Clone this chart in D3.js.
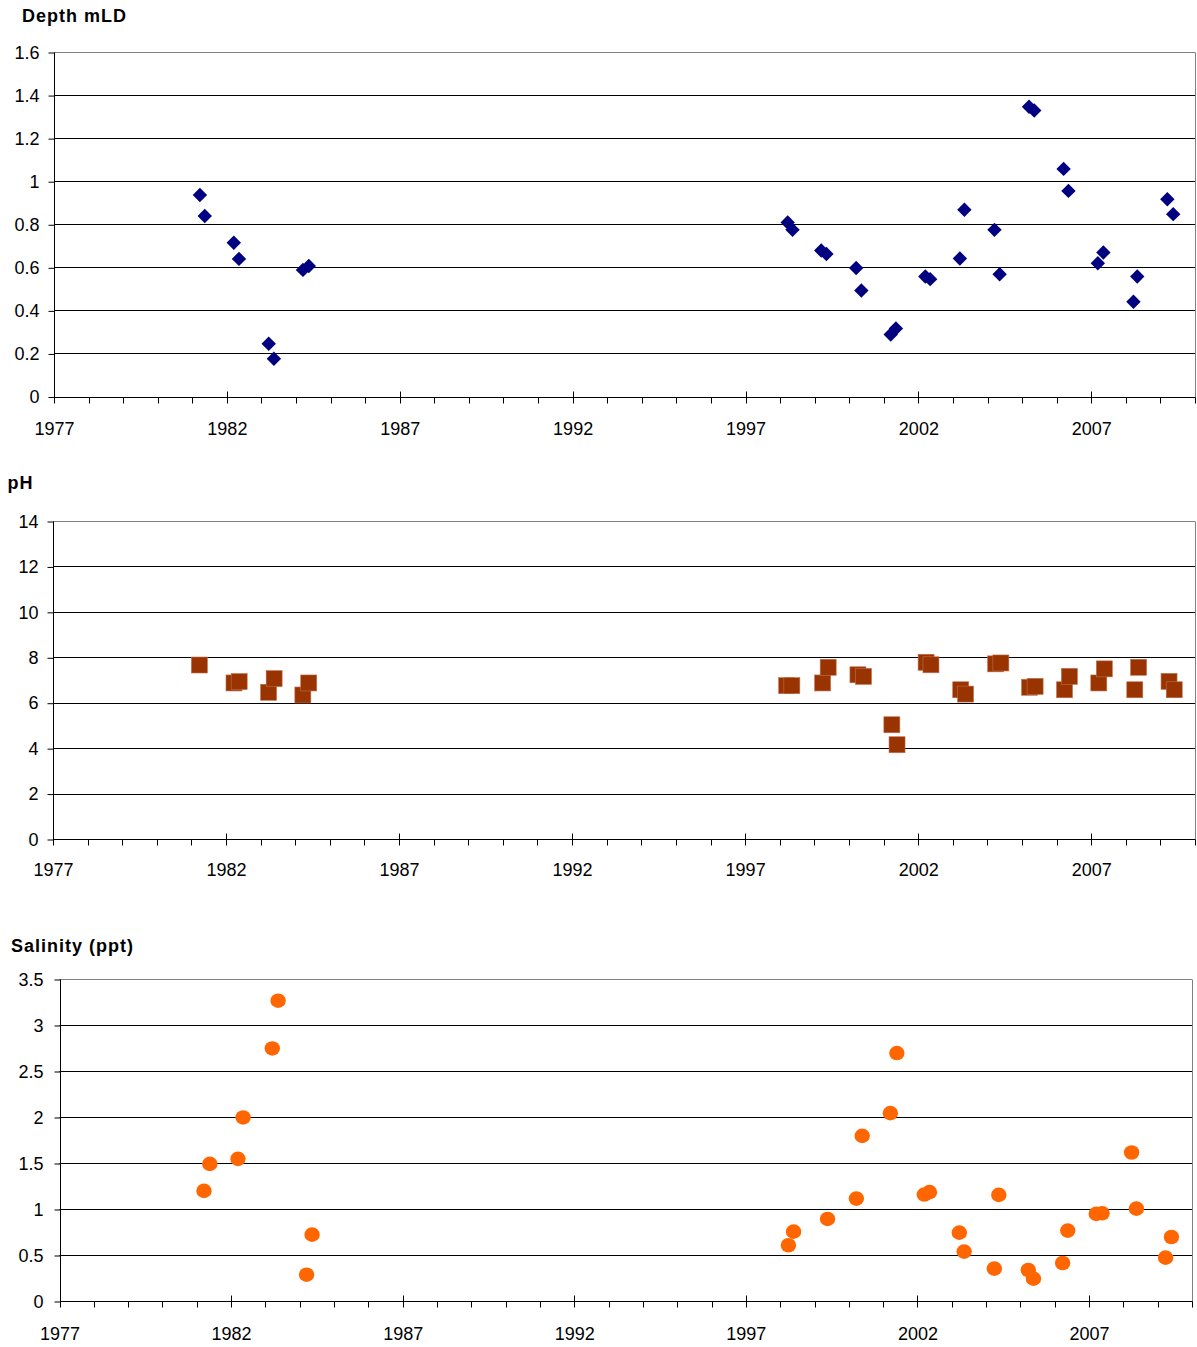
<!DOCTYPE html>
<html><head><meta charset="utf-8">
<script src="https://cdn.jsdelivr.net/npm/d3@7"></script>
<style>body{margin:0;background:#fff}svg{display:block}</style>
</head><body>
<svg id="c" width="1197" height="1347"></svg>
<script>
const xTicks = [1977, 1982, 1987, 1992, 1997, 2002, 2007];

const depthYears = [1981.22,1981.36,1982.2,1982.35,1983.21,1983.36,1984.2,1984.37,
  1998.22,1998.36,1999.19,1999.34,2000.2,2000.35,2001.2,2001.35,2002.2,2002.34,2003.2,2003.33,
  2004.2,2004.35,2005.2,2005.35,2006.2,2006.34,2007.19,2007.35,2008.22,2008.33,2009.2,2009.37];
const depthValues = [0.936,0.838,0.714,0.639,0.245,0.175,0.588,0.606,
  0.808,0.774,0.678,0.662,0.597,0.492,0.288,0.316,0.557,0.545,0.641,0.867,
  0.774,0.568,1.346,1.328,1.057,0.955,0.619,0.669,0.44,0.557,0.916,0.847];
const depthTicks = [0,0.2,0.4,0.6,0.8,1,1.2,1.4,1.6];

const phYears = [1981.23,1982.23,1982.38,1983.23,1983.39,1984.22,1984.39,
  1998.2,1998.35,1999.24,1999.4,2000.26,2000.42,2001.24,2001.39,2002.23,2002.37,2003.23,2003.37,
  2004.24,2004.39,2005.22,2005.38,2006.23,2006.37,2007.22,2007.38,2008.26,2008.37,2009.25,2009.4];
const phValues = [7.66,6.87,6.93,6.46,7.06,6.34,6.87,
  6.75,6.75,6.87,7.56,7.23,7.16,5.03,4.15,7.78,7.67,6.57,6.38,
  7.71,7.75,6.68,6.72,6.57,7.16,6.87,7.49,6.57,7.56,6.94,6.57];
const phTicks = [0,2,4,6,8,10,12,14];

const salYears = [1981.21,1981.38,1982.2,1982.35,1983.2,1983.37,1984.2,1984.36,
  1998.24,1998.39,1999.38,2000.22,2000.39,2001.21,2001.4,2002.2,2002.35,2003.22,2003.36,
  2004.24,2004.37,2005.23,2005.38,2006.23,2006.38,2007.21,2007.38,2008.24,2008.38,2009.23,2009.4];
const salValues = [1.197,1.49,1.545,1.995,2.745,3.264,0.286,0.721,
  0.606,0.754,0.892,1.113,1.795,2.042,2.695,1.157,1.183,0.743,0.537,
  0.352,1.153,0.337,0.243,0.413,0.765,0.947,0.954,1.614,1.004,0.471,0.696];
const salTicks = [0,0.5,1,1.5,2,2.5,3,3.5];

const svg = d3.select('#c');
const FONT = '"Liberation Sans", Arial, sans-serif';

function panel(cfg) {
  const x = d3.scaleLinear().domain([1977, 2010]).range([cfg.left, cfg.right]);
  const y = d3.scaleLinear().domain([0, cfg.yMax]).range([cfg.bottom, cfg.top]);
  const g = svg.append('g');

  g.append('text').attr('x', cfg.titleX).attr('y', cfg.titleY)
    .attr('font-family', FONT).attr('font-weight', 'bold').attr('font-size', 18)
    .attr('letter-spacing', '1px').attr('fill', '#000').text(cfg.title);

  // gridlines
  g.selectAll('.grid').data(cfg.ticks.filter(t => t > 0)).enter().append('line')
    .attr('x1', cfg.left).attr('x2', cfg.right)
    .attr('y1', d => Math.round(y(d)) + 0.5).attr('y2', d => Math.round(y(d)) + 0.5)
    .attr('stroke', d => d === cfg.yMax ? '#808080' : '#000').attr('stroke-width', 1);
  // right border
  g.append('line').attr('x1', Math.round(cfg.right) + 0.5).attr('x2', Math.round(cfg.right) + 0.5)
    .attr('y1', Math.round(y(cfg.yMax)) + 0.5).attr('y2', Math.round(y(0)) + 0.5)
    .attr('stroke', '#808080');

  // y axis
  const ya = d3.axisLeft(y).tickValues(cfg.ticks).tickSize(6).tickPadding(9)
    .tickFormat(d => String(d));
  const yg = g.append('g').attr('transform', `translate(${Math.round(cfg.left) + 0.5},0.5)`).call(ya);
  yg.select('.domain').attr('stroke', '#000').attr('d', `M0,${Math.round(y(cfg.yMax))}V${Math.round(y(0))}`);
  yg.selectAll('text').attr('font-family', FONT).attr('font-size', 18).attr('fill', '#000').attr('dx', cfg.yLabelDx || 0);
  yg.selectAll('.tick line').attr('stroke', '#000');

  // x axis minor ticks (each year)
  const years = d3.range(1977, 2011);
  const xg = g.append('g').attr('transform', `translate(0.5,${Math.round(y(0)) + 0.5})`);
  xg.append('line').attr('x1', cfg.left).attr('x2', cfg.right).attr('stroke', '#000');
  xg.selectAll('.minor').data(years).enter().append('line')
    .attr('x1', d => Math.round(x(d))).attr('x2', d => Math.round(x(d)))
    .attr('y1', d => xTicks.includes(d) ? -6 : 0).attr('y2', 6).attr('stroke', '#000');
  xg.selectAll('.lab').data(xTicks).enter().append('text')
    .attr('x', d => x(d)).attr('y', cfg.xLabelDy).attr('text-anchor', 'middle')
    .attr('font-family', FONT).attr('font-size', 18).attr('fill', '#000').text(d => d);

  // markers
  const pts = cfg.xs.map((d, i) => [d, cfg.ys[i]]);
  const mg = g.append('g');
  if (cfg.shape === 'diamond') {
    mg.selectAll('path').data(pts).enter().append('path')
      .attr('d', d => { const cx = x(d[0]), cy = y(d[1]), r = 7.2;
        return `M${cx},${cy - r}L${cx + r},${cy}L${cx},${cy + r}L${cx - r},${cy}Z`; })
      .attr('fill', '#000080');
  } else if (cfg.shape === 'square') {
    mg.selectAll('rect').data(pts).enter().append('rect')
      .attr('x', d => x(d[0]) - 8).attr('y', d => y(d[1]) - 8)
      .attr('width', 16).attr('height', 16)
      .attr('fill', '#993300').attr('stroke', '#c07050').attr('stroke-width', 0.6);
  } else {
    mg.selectAll('ellipse').data(pts).enter().append('ellipse')
      .attr('cx', d => x(d[0])).attr('cy', d => y(d[1]))
      .attr('rx', 7.7).attr('ry', 7.3).attr('fill', '#ff6600');
  }
}

panel({title: 'Depth mLD', titleX: 22, titleY: 21.5, left: 54, right: 1195, top: 52, bottom: 396.5,
  yMax: 1.6, ticks: depthTicks, xs: depthYears, ys: depthValues, shape: 'diamond', xLabelDy: 37});
panel({title: 'pH', titleX: 7.5, titleY: 489, left: 53, right: 1195, top: 521, bottom: 839,
  yMax: 14, ticks: phTicks, xs: phYears, ys: phValues, shape: 'square', xLabelDy: 36});
panel({title: 'Salinity (ppt)', titleX: 11, titleY: 951.5, left: 59.5, right: 1192, top: 979, bottom: 1301,
  yMax: 3.5, ticks: salTicks, xs: salYears, ys: salValues, shape: 'circle', xLabelDy: 38, yLabelDx: -2});
</script>
</body></html>
